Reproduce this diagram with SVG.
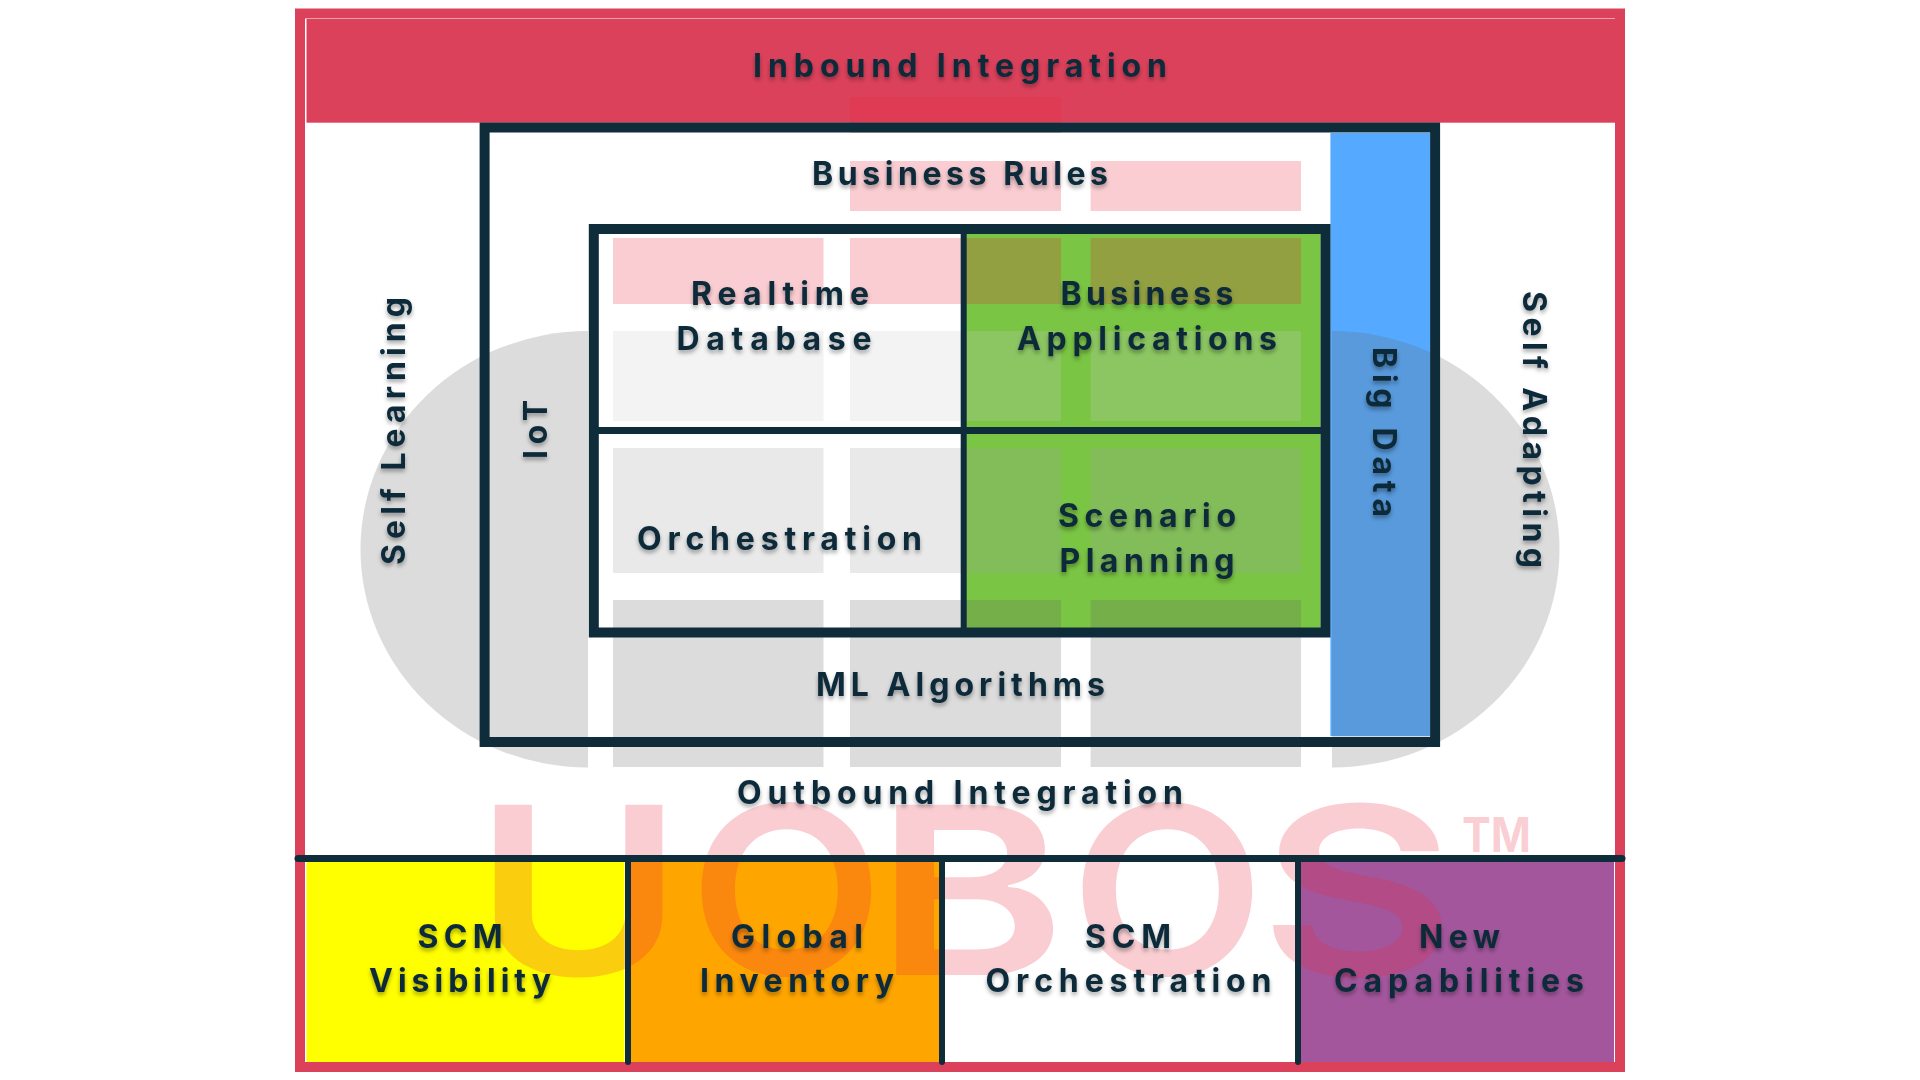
<svg xmlns="http://www.w3.org/2000/svg" width="1920" height="1080" viewBox="0 0 1920 1080">
<style>
.t{font-family:"Inter","Noto Sans","Liberation Sans",sans-serif;font-weight:700;font-size:32px;fill:#0f2c3a;filter:url(#ts)}
.frame{fill:none;stroke:#0f2c3a;stroke-width:10}
.line{stroke:#0f2c3a;stroke-width:6;stroke-linecap:round;fill:none}
.pink{fill:rgb(233,40,62);fill-opacity:.233}
.g1{fill:rgb(204,204,204);fill-opacity:.23}
.g2{fill:rgb(163,163,163);fill-opacity:.24}
.g3{fill:rgb(98,100,100);fill-opacity:.224}
.wm{font-family:"Inter","Liberation Sans",sans-serif;font-weight:600;font-size:234px;fill:rgb(233,40,62);fill-opacity:.233}
</style>
<defs>
<filter id="ts" x="-10%" y="-30%" width="120%" height="170%"><feDropShadow dx="0" dy="3" stdDeviation="2" flood-color="#000" flood-opacity=".35"/></filter>
</defs>
<rect width="1920" height="1080" fill="#fff"/>
<g id="fills">
<rect x="306.5" y="19" width="1308.5" height="103.7" fill="#dc415b"/>
<rect x="1330.4" y="133" width="99.6" height="603" fill="#55aaff"/>
<rect x="966" y="234" width="354.5" height="194" fill="#7ac543"/>
<rect x="966" y="433" width="354.5" height="195" fill="#7ac543"/>
<rect x="306.5" y="860" width="318" height="204" fill="#ffff00"/>
<rect x="630" y="860" width="309.5" height="204" fill="#ffa500"/>
<rect x="1300" y="860" width="314" height="204" fill="#a3569c"/>
</g>
<g id="watermark">
<rect class="pink" x="850" y="97" width="211" height="36"/>
<rect class="pink" x="850" y="161" width="211" height="50"/>
<rect class="pink" x="1090.6" y="161" width="210.4" height="50"/>
<rect class="pink" x="613" y="238" width="210.5" height="66"/>
<rect class="pink" x="850" y="238" width="211" height="66"/>
<rect class="pink" x="1090.6" y="238" width="210.4" height="66"/>
<rect class="g1" x="613" y="331" width="210.5" height="90"/>
<rect class="g1" x="850" y="331" width="211" height="90"/>
<rect class="g1" x="1090.6" y="331" width="210.4" height="90"/>
<rect class="g2" x="613" y="448" width="210.5" height="125"/>
<rect class="g2" x="850" y="448" width="211" height="125"/>
<rect class="g2" x="1090.6" y="448" width="210.4" height="125"/>
<rect class="g3" x="613" y="600" width="210.5" height="167"/>
<rect class="g3" x="850" y="600" width="211" height="167"/>
<rect class="g3" x="1090.6" y="600" width="210.4" height="167"/>
<path class="g3" d="M588 331A227.500 218.250 0 0 0 588 767.500Z"/>
<path class="g3" d="M1332 331A227.500 218.250 0 0 1 1332 767.500Z"/>
<text class="wm" y="975" x="474" textLength="209" lengthAdjust="spacingAndGlyphs">U</text>
<text class="wm" y="975" x="689" textLength="195" lengthAdjust="spacingAndGlyphs">O</text>
<text class="wm" y="975" x="875" textLength="191" lengthAdjust="spacingAndGlyphs">B</text>
<text class="wm" y="975" x="1070" textLength="195" lengthAdjust="spacingAndGlyphs">O</text>
<text class="wm" y="975" x="1259" textLength="197" lengthAdjust="spacingAndGlyphs">S</text>
<text class="wm" style="font-size:48px;font-weight:700" x="1462" y="851.500" textLength="69" lengthAdjust="spacingAndGlyphs">TM</text>
</g>
<g id="connectors">
<rect class="frame" x="300" y="13.500" width="1320" height="1053.500" style="stroke:#dc415b"/>
<rect class="frame" x="484.600" y="127.500" width="950.500" height="614.500"/>
<rect class="frame" x="593.800" y="229" width="731.700" height="403.500"/>
<line x1="963.700" y1="229" x2="963.700" y2="632" stroke="#0f2c3a" stroke-width="6"/>
<line x1="594" y1="430.500" x2="1325" y2="430.500" stroke="#0f2c3a" stroke-width="7"/>
<line class="line" x1="298" y1="858.500" x2="1622" y2="858.500" style="stroke-width:7"/>
<line class="line" x1="628" y1="862" x2="628" y2="1062"/>
<line class="line" x1="942" y1="862" x2="942" y2="1062"/>
<line class="line" x1="1298" y1="862" x2="1298" y2="1062"/>
</g>
<g id="node-inbound" class="t"><text x="753" y="77" textLength="414">Inbound Integration</text></g>
<g id="node-business-rules" class="t"><text x="812" y="185" textLength="296">Business Rules</text></g>
<g id="node-realtime-database" class="t"><text x="691" y="305" textLength="178">Realtime</text><text x="676.500" y="350" textLength="195">Database</text></g>
<g id="node-business-applications" class="t"><text x="1060.500" y="305" textLength="173">Business</text><text x="1017" y="350" textLength="260">Applications</text></g>
<g id="node-orchestration" class="t"><text x="637" y="550" textLength="285">Orchestration</text></g>
<g id="node-scenario-planning" class="t"><text x="1058" y="527" textLength="178">Scenario</text><text x="1059.500" y="571.500" textLength="175">Planning</text></g>
<g id="node-ml-algorithms" class="t"><text x="816" y="695.500" textLength="289">ML Algorithms</text></g>
<g id="node-outbound" class="t"><text x="737" y="804" textLength="446">Outbound Integration</text></g>
<g id="node-self-learning" class="t"><text transform="translate(405,565) rotate(-90)" textLength="268">Self Learning</text></g>
<g id="node-iot" class="t"><text transform="translate(546.700,459) rotate(-90)" textLength="59">IoT</text></g>
<g id="node-big-data" class="t"><text transform="translate(1372.800,347) rotate(90)" textLength="170">Big Data</text></g>
<g id="node-self-adapting" class="t"><text transform="translate(1522.800,291) rotate(90)" textLength="277">Self Adapting</text></g>
<g id="node-scm-visibility" class="t"><text x="417.500" y="948" textLength="85">SCM</text><text x="369" y="992" textLength="182">Visibility</text></g>
<g id="node-global-inventory" class="t"><text x="731" y="948" textLength="132">Global</text><text x="700" y="992" textLength="194">Inventory</text></g>
<g id="node-scm-orchestration" class="t"><text x="1085" y="948" textLength="86">SCM</text><text x="985.500" y="992" textLength="286">Orchestration</text></g>
<g id="node-new-capabilities" class="t"><text x="1419" y="948" textLength="81">New</text><text x="1334" y="992" textLength="250">Capabilities</text></g>
</svg>
